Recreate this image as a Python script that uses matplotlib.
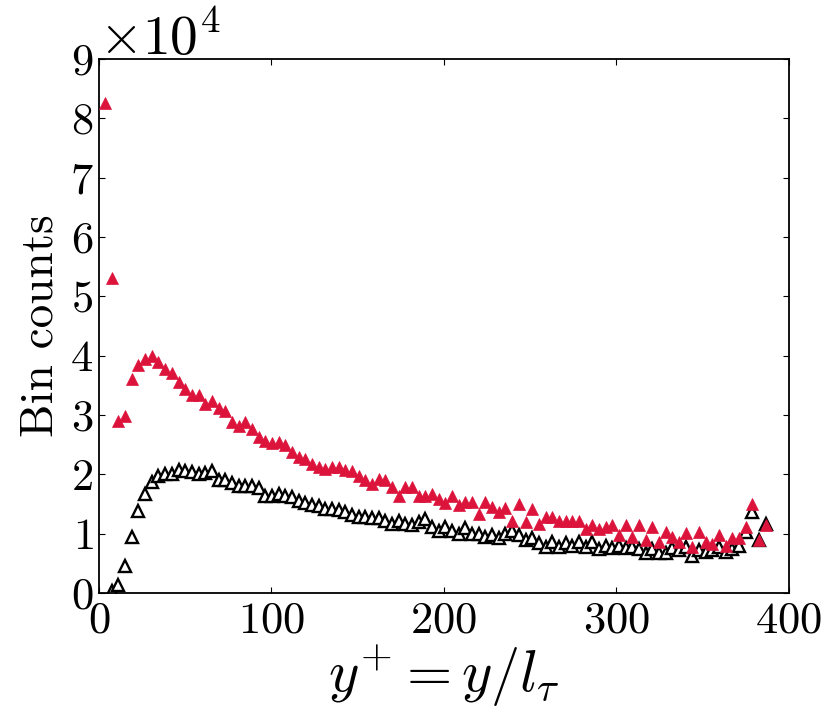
import numpy as np
import matplotlib
matplotlib.use("Agg")
import matplotlib.pyplot as plt

plt.rcParams["font.family"] = "serif"
plt.rcParams["font.serif"] = ["cmr10"]
plt.rcParams["mathtext.fontset"] = "cm"
plt.rcParams["axes.formatter.use_mathtext"] = True
plt.rcParams["axes.unicode_minus"] = False

# bin centres (y+) and bin counts in units of 1e4
y_plus = np.arange(100) * 3.87 + 3.6

counts_red = [
    8.25, 5.30, 2.90, 2.98, 3.60, 3.84, 3.95, 4.00, 3.89, 3.78,
    3.71, 3.56, 3.44, 3.33, 3.34, 3.19, 3.23, 3.11, 3.07, 2.88,
    2.82, 2.88, 2.77, 2.63, 2.57, 2.52, 2.54, 2.50, 2.38, 2.29,
    2.26, 2.18, 2.13, 2.09, 2.13, 2.12, 2.08, 2.05, 1.98, 1.90,
    1.84, 1.93, 1.91, 1.78, 1.64, 1.78, 1.78, 1.64, 1.63, 1.67,
    1.59, 1.51, 1.64, 1.48, 1.53, 1.53, 1.34, 1.53, 1.45, 1.37,
    1.43, 1.22, 1.50, 1.19, 1.42, 1.17, 1.28, 1.28, 1.21, 1.22,
    1.21, 1.21, 1.08, 1.14, 1.08, 1.11, 1.14, 0.97, 1.14, 0.94,
    1.14, 0.89, 1.11, 0.86, 1.03, 0.95, 0.86, 1.01, 0.78, 1.03,
    0.86, 0.83, 0.97, 0.80, 0.93, 0.93, 1.11, 1.50, 0.89, 1.14,
]

counts_black = [
    np.nan, 0.04, 0.13, 0.46, 0.94, 1.39, 1.67, 1.87, 1.98, 2.01,
    2.01, 2.08, 2.06, 2.04, 2.01, 2.02, 2.06, 1.90, 1.90, 1.85,
    1.81, 1.81, 1.81, 1.77, 1.64, 1.64, 1.67, 1.64, 1.62, 1.55,
    1.51, 1.48, 1.46, 1.42, 1.42, 1.40, 1.36, 1.32, 1.29, 1.28,
    1.27, 1.27, 1.22, 1.17, 1.22, 1.16, 1.14, 1.19, 1.25, 1.11,
    1.05, 1.11, 1.05, 1.00, 1.10, 1.00, 1.00, 0.95, 0.97, 0.93,
    1.00, 1.05, 0.97, 0.90, 0.92, 0.85, 0.78, 0.86, 0.78, 0.84,
    0.80, 0.86, 0.78, 0.86, 0.75, 0.80, 0.76, 0.80, 0.76, 0.78,
    0.75, 0.67, 0.75, 0.67, 0.67, 0.76, 0.72, 0.78, 0.63, 0.72,
    0.69, 0.72, 0.78, 0.69, 0.75, 0.80, 1.03, 1.36, 0.89, 1.17,
]

x_ticks = [0, 100, 200, 300, 400]
y_ticks = np.arange(0, 10) * 1e4

fig = plt.figure(figsize=(8.31, 7.18), dpi=100)
ax = fig.add_axes([0.119, 0.174, 0.830, 0.744])

ax.plot(y_plus, np.array(counts_black) * 1e4, linestyle="none", marker="^",
        ms=8.5, mfc="white", mec="black", mew=1.7, zorder=2)
ax.plot(y_plus, np.array(counts_red) * 1e4, linestyle="none", marker="^",
        ms=8.3, mfc="#DC143C", mec="#DC143C", mew=0.5, zorder=3)

ax.set_xlim(0, 400)
ax.set_ylim(0, 9e4)
ax.set_xticks(x_ticks)
ax.set_yticks(y_ticks)
ax.ticklabel_format(axis="y", style="sci", scilimits=(0, 0))
ax.yaxis.get_offset_text().set_fontsize(40)

ax.tick_params(direction="in", top=True, right=True, length=4.5, width=0.8,
               labelsize=32)
ax.tick_params(axis="x", pad=6)
ax.tick_params(axis="y", pad=4)
for s in ax.spines.values():
    s.set_linewidth(1.3)

ax.set_xlabel(r"$y^{+} = y/l_{\tau}$", fontsize=42, labelpad=2)
ax.set_ylabel("Bin counts", fontsize=34, labelpad=6)

fig.savefig("out.png", dpi=100)
